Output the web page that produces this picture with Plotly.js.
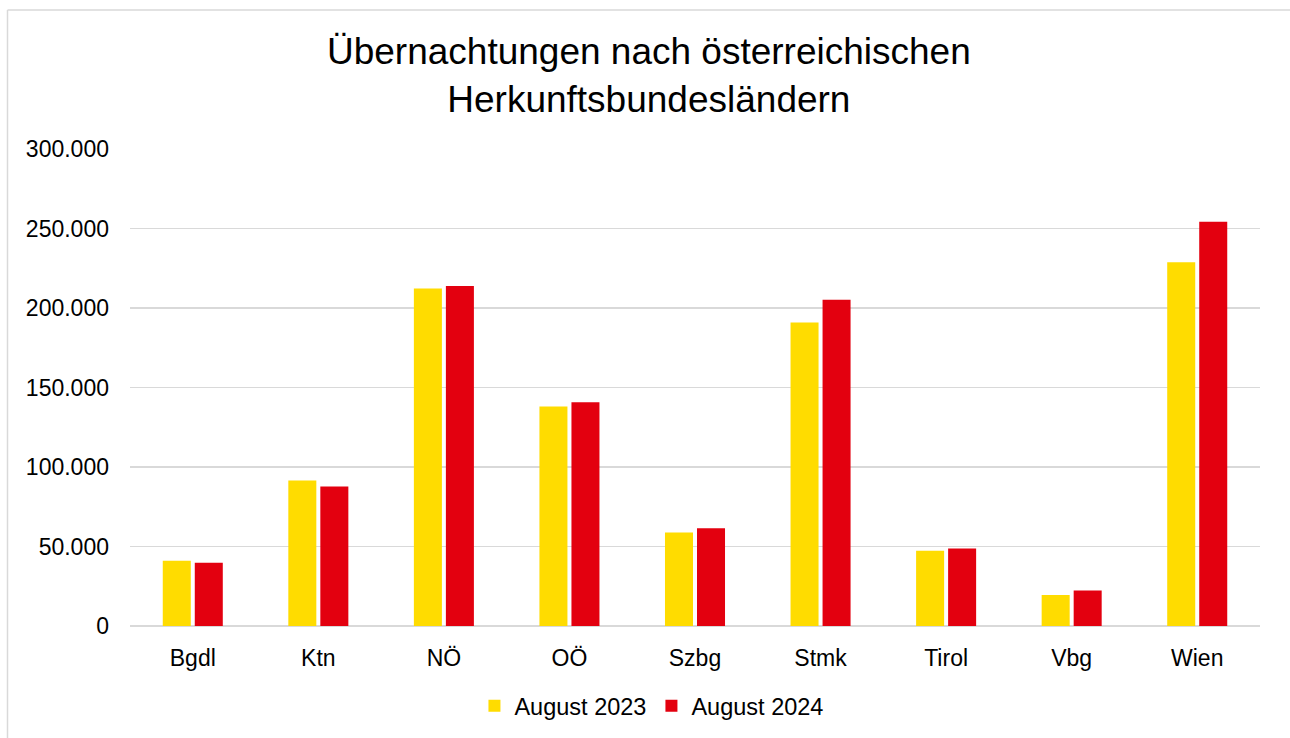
<!DOCTYPE html>
<html>
<head>
<meta charset="utf-8">
<script src="https://cdn.plot.ly/plotly-3.0.1.min.js"></script>
<style>
html,body{margin:0;padding:0;background:#fff;}
#chart{width:1290px;height:738px;}
</style>
</head>
<body>
<div id="chart"></div>
<script>
const categories = ["Bgdl", "Ktn", "NÖ", "OÖ", "Szbg", "Stmk", "Tirol", "Vbg", "Wien"];
const aug2023 = [41000, 91500, 212300, 138000, 58800, 190900, 47300, 19500, 228800];
const aug2024 = [39800, 87700, 213800, 140700, 61400, 205200, 48800, 22400, 254200];
const seriesNames = ["August 2023", "August 2024"];
const yTickVals = [0, 50000, 100000, 150000, 200000, 250000, 300000];
const yTickText = ["0", "50.000", "100.000", "150.000", "200.000", "250.000", "300.000"];

const W = 1290, H = 738;
const m = {l: 130, r: 30, t: 149, b: 112};
const pw = W - m.l - m.r, ph = H - m.t - m.b;
const px = v => (v - m.l) / pw;
const py = v => (H - m.b - v) / ph;

const font = "Liberation Sans, Arial, sans-serif";

const data = [
  {type: "bar", name: seriesNames[0], x: categories, y: aug2023,
   marker: {color: "#FFDC00"}, hoverinfo: "x+y"},
  {type: "bar", name: seriesNames[1], x: categories, y: aug2024,
   marker: {color: "#E3000F"}, hoverinfo: "x+y"}
];

const layout = {
  width: W, height: H,
  margin: m,
  paper_bgcolor: "#fff", plot_bgcolor: "#fff",
  font: {family: font, color: "#000"},
  barmode: "group",
  bargap: 0.49,
  bargroupgap: 0.125,
  title: {
    text: "Übernachtungen nach österreichischen<br>Herkunftsbundesländern",
    font: {family: font, size: 37, color: "#000"},
    x: 0.503, xref: "container", xanchor: "center",
    y: 1 - 64/H, yref: "container", yanchor: "top"
  },
  xaxis: {
    type: "category",
    tickfont: {family: font, size: 23, color: "#000"},
    showgrid: false, zeroline: false, showline: false,
    ticks: "", ticklen: 0, ticklabelstandoff: 16
  },
  yaxis: {
    range: [0, 300000],
    tickvals: yTickVals, ticktext: yTickText,
    tickfont: {family: font, size: 23, color: "#000"},
    showgrid: true, gridcolor: "#D9D9D9", gridwidth: 1.5,
    zeroline: true, zerolinecolor: "#D9D9D9", zerolinewidth: 1.5,
    showline: false, ticks: "", ticklabelstandoff: 20, fixedrange: true
  },
  showlegend: true,
  legend: {
    orientation: "h",
    x: 0.505, xref: "container", xanchor: "center",
    y: 1 - 706/H, yref: "container", yanchor: "middle",
    font: {family: font, size: 23.5, color: "#000"},
    itemwidth: 30,
    traceorder: "normal"
  },
  shapes: [
    {type: "line", xref: "paper", yref: "paper",
     x0: px(7.5), x1: px(1290), y0: py(10), y1: py(10),
     line: {color: "#D9D9D9", width: 1.5}},
    {type: "line", xref: "paper", yref: "paper",
     x0: px(7.5), x1: px(7.5), y0: py(10), y1: py(738),
     line: {color: "#D9D9D9", width: 1.5}}
  ]
};

Plotly.newPlot("chart", data, layout, {displayModeBar: false, staticPlot: true});
</script>
</body>
</html>
